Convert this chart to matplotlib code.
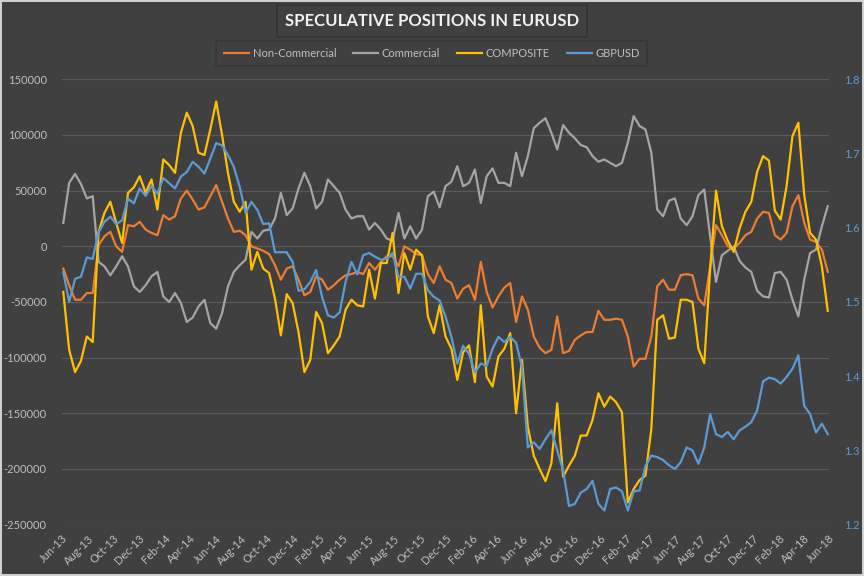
import pandas as pd
import matplotlib.pyplot as plt
import matplotlib.dates as mdates

# biweekly readings, Jun-13 .. Jun-18 (thousands of contracts for positions)
dates = pd.date_range("2013-06-04", periods=131, freq="14D")

non_commercial = [
    -20, -35, -48, -48, -42, -42, 1, 9, 13, 0,
    -5, 19, 18, 22, 15, 12, 10, 28, 24, 27,
    43, 50, 42, 33, 35, 45, 55, 40, 25, 13,
    14, 10, 0, -2, -4, -7, -17, -30, -20, -18,
    -30, -44, -41, -27, -30, -39, -35, -30, -26, -25,
    -23, -25, -15, -21, -14, -9, -9, -18, 0, -3,
    -7, -8, -25, -33, -18, -30, -33, -47, -38, -35,
    -48, -14, -41, -55, -45, -37, -33, -68, -45, -57,
    -81, -91, -96, -93, -63, -96, -94, -84, -80, -77,
    -77, -58, -66, -66, -65, -66, -81, -108, -101, -101,
    -81, -36, -30, -39, -39, -26, -25, -26, -47, -53,
    -18, 19, 10, 0, -2, 3, 10, 13, 25, 31,
    30, 10, 6, 12, 36, 46, 21, 6, 4, -3,
    -23,
]
commercial = [
    21, 57, 65, 56, 43, 45, -14, -18, -26, -18,
    -9, -18, -36, -41, -35, -27, -23, -45, -50, -42,
    -51, -68, -64, -54, -48, -69, -74, -60, -36, -23,
    -17, -12, 13, 7, 14, 15, 25, 48, 28, 34,
    52, 66, 54, 34, 40, 60, 54, 48, 33, 25,
    27, 27, 15, 21, 15, 7, 5, 30, 7, 18,
    7, 15, 45, 49, 35, 54, 58, 72, 54, 57,
    69, 39, 63, 70, 57, 57, 54, 84, 63, 81,
    106, 111, 115, 102, 87, 109, 102, 97, 91, 89,
    81, 76, 78, 75, 72, 75, 93, 117, 108, 105,
    84, 33, 27, 41, 43, 25, 19, 27, 46, 51,
    9, -32, -8, -4, 0, -13, -19, -23, -40, -45,
    -46, -24, -23, -30, -48, -63, -30, -6, -3, 18,
    36,
]
composite = [
    -41, -93, -113, -103, -81, -86, 13, 30, 40, 21,
    3, 48, 53, 63, 48, 60, 33, 78, 73, 66,
    102, 120, 108, 84, 82, 105, 130, 100, 66, 40,
    31, 40, -21, -5, -20, -24, -47, -80, -43, -51,
    -77, -113, -102, -59, -69, -96, -89, -81, -57, -48,
    -53, -54, -21, -47, -15, -15, 12, -42, -6, -21,
    -3, -8, -63, -78, -53, -81, -92, -120, -95, -89,
    -122, -53, -117, -126, -99, -92, -78, -150, -102, -162,
    -188, -200, -211, -195, -141, -207, -197, -188, -170, -170,
    -156, -132, -144, -135, -140, -149, -230, -218, -210, -206,
    -164, -66, -62, -83, -82, -48, -48, -50, -92, -105,
    -21, 50, 18, 5, -5, 16, 31, 40, 67, 81,
    77, 32, 24, 54, 99, 111, 46, 12, 6, -18,
    -58,
]
gbpusd = [
    1.540, 1.500, 1.531, 1.534, 1.560, 1.558, 1.594, 1.608, 1.615, 1.605,
    1.610, 1.639, 1.633, 1.653, 1.643, 1.656, 1.646, 1.667, 1.660, 1.653,
    1.669, 1.675, 1.689, 1.682, 1.673, 1.693, 1.714, 1.711, 1.698, 1.682,
    1.655, 1.620, 1.635, 1.624, 1.605, 1.606, 1.567, 1.567, 1.567, 1.554,
    1.515, 1.517, 1.527, 1.543, 1.507, 1.482, 1.479, 1.486, 1.527, 1.554,
    1.537, 1.563, 1.566, 1.561, 1.557, 1.558, 1.566, 1.534, 1.534, 1.518,
    1.538, 1.538, 1.516, 1.507, 1.502, 1.480, 1.453, 1.417, 1.441, 1.430,
    1.405, 1.417, 1.414, 1.437, 1.453, 1.446, 1.453, 1.445, 1.412, 1.304,
    1.311, 1.302, 1.315, 1.327, 1.300, 1.273, 1.225, 1.228, 1.243, 1.248,
    1.259, 1.228, 1.219, 1.248, 1.250, 1.245, 1.219, 1.245, 1.246, 1.279,
    1.293, 1.291, 1.287, 1.280, 1.275, 1.284, 1.304, 1.300, 1.282, 1.304,
    1.349, 1.322, 1.318, 1.325, 1.315, 1.327, 1.332, 1.338, 1.354, 1.393,
    1.398, 1.396, 1.390, 1.399, 1.410, 1.428, 1.360, 1.349, 1.324, 1.336,
    1.322,
]

bg = "#404040"
txt = "#bfbfbf"
plt.rcParams["font.family"] = ["Lato", "DejaVu Sans"]

fig = plt.figure(figsize=(8.64, 5.76), dpi=100, facecolor=bg)
fig.patch.set_edgecolor("#d0d0d0")
fig.patch.set_linewidth(1.5)
ax = fig.add_axes([0.0718, 0.0892, 0.8877, 0.7731], facecolor=bg)
ax2 = ax.twinx()

k = 1000
l1, = ax.plot(dates, [v * k for v in non_commercial], color="#ed7d31", lw=1.6)
l2, = ax.plot(dates, [v * k for v in commercial], color="#a5a5a5", lw=1.6)
l3, = ax.plot(dates, [v * k for v in composite], color="#ffc000", lw=1.6)
l4, = ax2.plot(dates, gbpusd, color="#5b9bd5", lw=1.6)

ax.set_xlim(pd.Timestamp("2013-06-01"), pd.Timestamp("2018-06-01"))
ax.set_ylim(-250000, 150000)
ax2.set_ylim(1.2, 1.8)
yt = list(range(-250000, 150001, 50000))
ax.set_yticks(yt)
ax.set_yticklabels([str(v) for v in yt])
ax2.set_yticks([1.2, 1.3, 1.4, 1.5, 1.6, 1.7, 1.8])
ax2.set_yticklabels(["1.2", "1.3", "1.4", "1.5", "1.6", "1.7", "1.8"])
ax.grid(axis="y", color="#5a5a5a", lw=0.9)
ax.set_axisbelow(True)

ax.xaxis.set_major_locator(mdates.MonthLocator(bymonth=(2, 4, 6, 8, 10, 12)))
ax.xaxis.set_major_formatter(mdates.DateFormatter("%b-%y"))
for lab in ax.get_xticklabels():
    lab.set_rotation(45)
    lab.set_ha("right")
    lab.set_rotation_mode("anchor")

ax.tick_params(axis="x", length=0, pad=6, colors=txt, labelsize=8)
ax.tick_params(axis="y", length=0, pad=11, colors=txt, labelsize=8)
ax2.tick_params(axis="y", length=0, pad=11, colors="#5b9bd5", labelsize=8)
for a in (ax, ax2):
    for s in a.spines.values():
        s.set_visible(False)

fig.text(0.5, 0.9635, "SPECULATIVE POSITIONS IN EURUSD", ha="center", va="center",
         fontsize=12, fontweight="bold", color="#f2f2f2",
         bbox=dict(boxstyle="square,pad=0.5", fc=bg, ec="#353535", lw=1.2))

leg = fig.legend([l1, l2, l3, l4], ["Non-Commercial", "Commercial", "COMPOSITE", "GBPUSD"],
                 loc="center", bbox_to_anchor=(0.4997, 0.9076), ncol=4, frameon=True,
                 fontsize=8, handlelength=2.3, handletextpad=0.3, columnspacing=1.5,
                 borderpad=0.65, fancybox=False, labelcolor=txt)
leg.get_frame().set_facecolor(bg)
leg.get_frame().set_edgecolor("#353535")
leg.get_frame().set_linewidth(1.2)

fig.savefig("out.png", dpi=100, facecolor=bg)
